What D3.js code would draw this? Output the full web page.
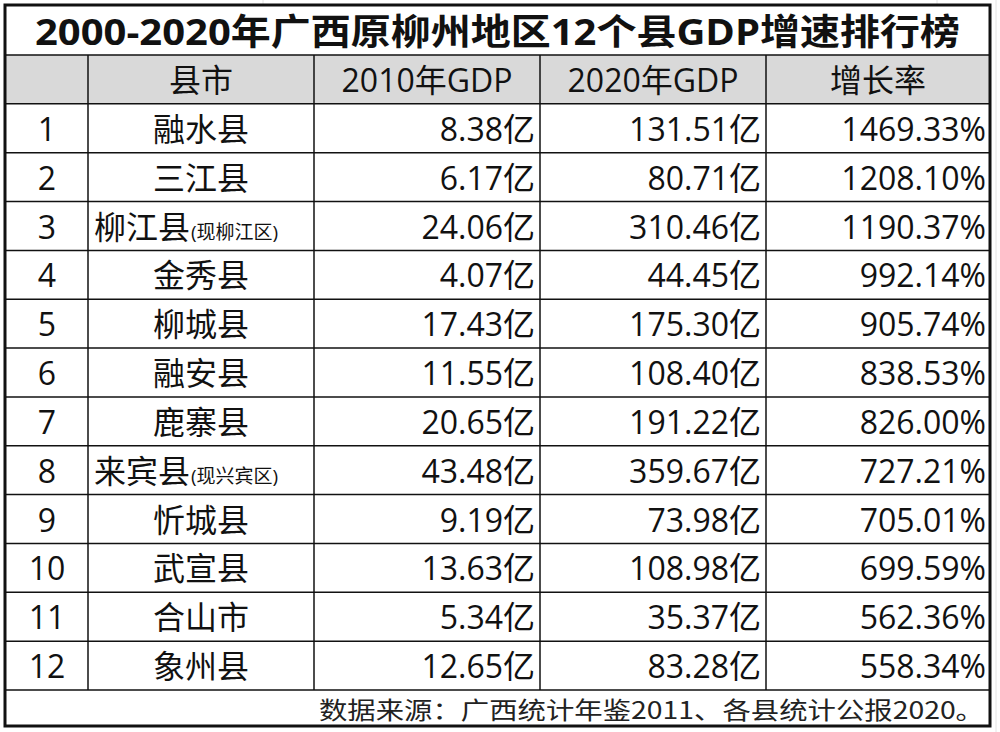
<!doctype html>
<html><head><meta charset="utf-8">
<script src="https://cdn.jsdelivr.net/npm/d3@7/dist/d3.min.js"></script>
<style>html,body{margin:0;background:#fff}</style></head>
<body><svg id="c" width="1000" height="732"></svg>
<script>
const title = '2000-2020年广西原柳州地区12个县GDP增速排行榜';
const headers = ['', '县市', '2010年GDP', '2020年GDP', '增长率'];
const ranks = [1,2,3,4,5,6,7,8,9,10,11,12];
const counties = ['融水县','三江县','柳江县','金秀县','柳城县','融安县','鹿寨县','来宾县','忻城县','武宣县','合山市','象州县'];
const notes = ['','','(现柳江区)','','','','','(现兴宾区)','','','',''];
const gdp2010 = [8.38,6.17,24.06,4.07,17.43,11.55,20.65,43.48,9.19,13.63,5.34,12.65];
const gdp2020 = [131.51,80.71,310.46,44.45,175.30,108.40,191.22,359.67,73.98,108.98,35.37,83.28];
const growth = [1469.33,1208.10,1190.37,992.14,905.74,838.53,826.00,727.21,705.01,699.59,562.36,558.34];
const source = '数据来源：广西统计年鉴2011、各县统计公报2020。';

const svg = d3.select('#c');
const font = '"Open Sans", "Noto Sans CJK SC", sans-serif';
const L = 5, R = 990, T = 5, B = 726;
const colEdges = [L, 88, 314, 540, 766, R];
const y = d3.scaleBand().domain(d3.range(13)).range([55, 690]);
const footTop = 690;

const g0 = svg.append('g').attr('stroke', '#e4e4e4');
g0.append('line').attr('x1', R + 6).attr('x2', R + 6).attr('y1', 0).attr('y2', 732);
g0.append('line').attr('x1', 263).attr('x2', 263).attr('y1', 0).attr('y2', 5);
g0.append('line').attr('x1', 937).attr('x2', 937).attr('y1', 0).attr('y2', 5);

svg.append('rect').attr('x', L).attr('y', y(0)).attr('width', R - L).attr('height', y.bandwidth()).attr('fill', '#d9d9d9');

const lines = svg.append('g').attr('stroke', '#111').attr('stroke-width', 1.5);
d3.range(14).forEach(i => {
  const yy = 55 + i * y.step();
  lines.append('line').attr('x1', L).attr('x2', R).attr('y1', yy).attr('y2', yy);
});
colEdges.slice(1, -1).forEach(x => lines.append('line').attr('x1', x).attr('x2', x).attr('y1', 55).attr('y2', footTop));
svg.append('rect').attr('x', L).attr('y', T).attr('width', R - L).attr('height', B - T)
  .attr('fill', 'none').attr('stroke', '#111').attr('stroke-width', 3);

svg.append('text').attr('x', (L + R) / 2).attr('y', 45).attr('text-anchor', 'middle')
  .attr('font-family', font).attr('font-weight', 'bold').attr('font-size', 36).attr('fill', '#111')
  .attr('textLength', 925).attr('lengthAdjust', 'spacingAndGlyphs').text(title);

const fs = 32;
headers.forEach((h, i) => {
  svg.append('text').attr('x', (colEdges[i] + colEdges[i + 1]) / 2).attr('y', y(0) + 37)
    .attr('text-anchor', 'middle').attr('font-family', font).attr('font-size', fs).attr('fill', '#111').text(h);
});

const rows = svg.append('g').selectAll('g').data(ranks).join('g')
  .attr('transform', (d, i) => `translate(0,${y(i + 1) + 37})`)
  .attr('font-family', font).attr('font-size', fs).attr('fill', '#111');
rows.append('text').attr('x', 47).attr('text-anchor', 'middle').text(d => d);
rows.append('text').attr('x', (d, i) => notes[i] ? 94 : 201).attr('text-anchor', (d, i) => notes[i] ? 'start' : 'middle')
  .each(function (d, i) {
    const t = d3.select(this);
    t.append('tspan').text(counties[i]);
    if (notes[i]) t.append('tspan').attr('font-size', 19).attr('dx', 1).text(notes[i]);
  });
rows.append('text').attr('x', 535).attr('text-anchor', 'end').text((d, i) => gdp2010[i].toFixed(2) + '亿');
rows.append('text').attr('x', 761).attr('text-anchor', 'end').text((d, i) => gdp2020[i].toFixed(2) + '亿');
rows.append('text').attr('x', 986).attr('text-anchor', 'end').text((d, i) => growth[i].toFixed(2) + '%');

svg.append('text').attr('x', 984).attr('y', footTop + 29).attr('text-anchor', 'end')
  .attr('font-family', '"Noto Sans CJK SC", serif').attr('font-size', 24).attr('fill', '#222')
  .attr('textLength', 665).attr('lengthAdjust', 'spacingAndGlyphs').text(source);
</script></body></html>
